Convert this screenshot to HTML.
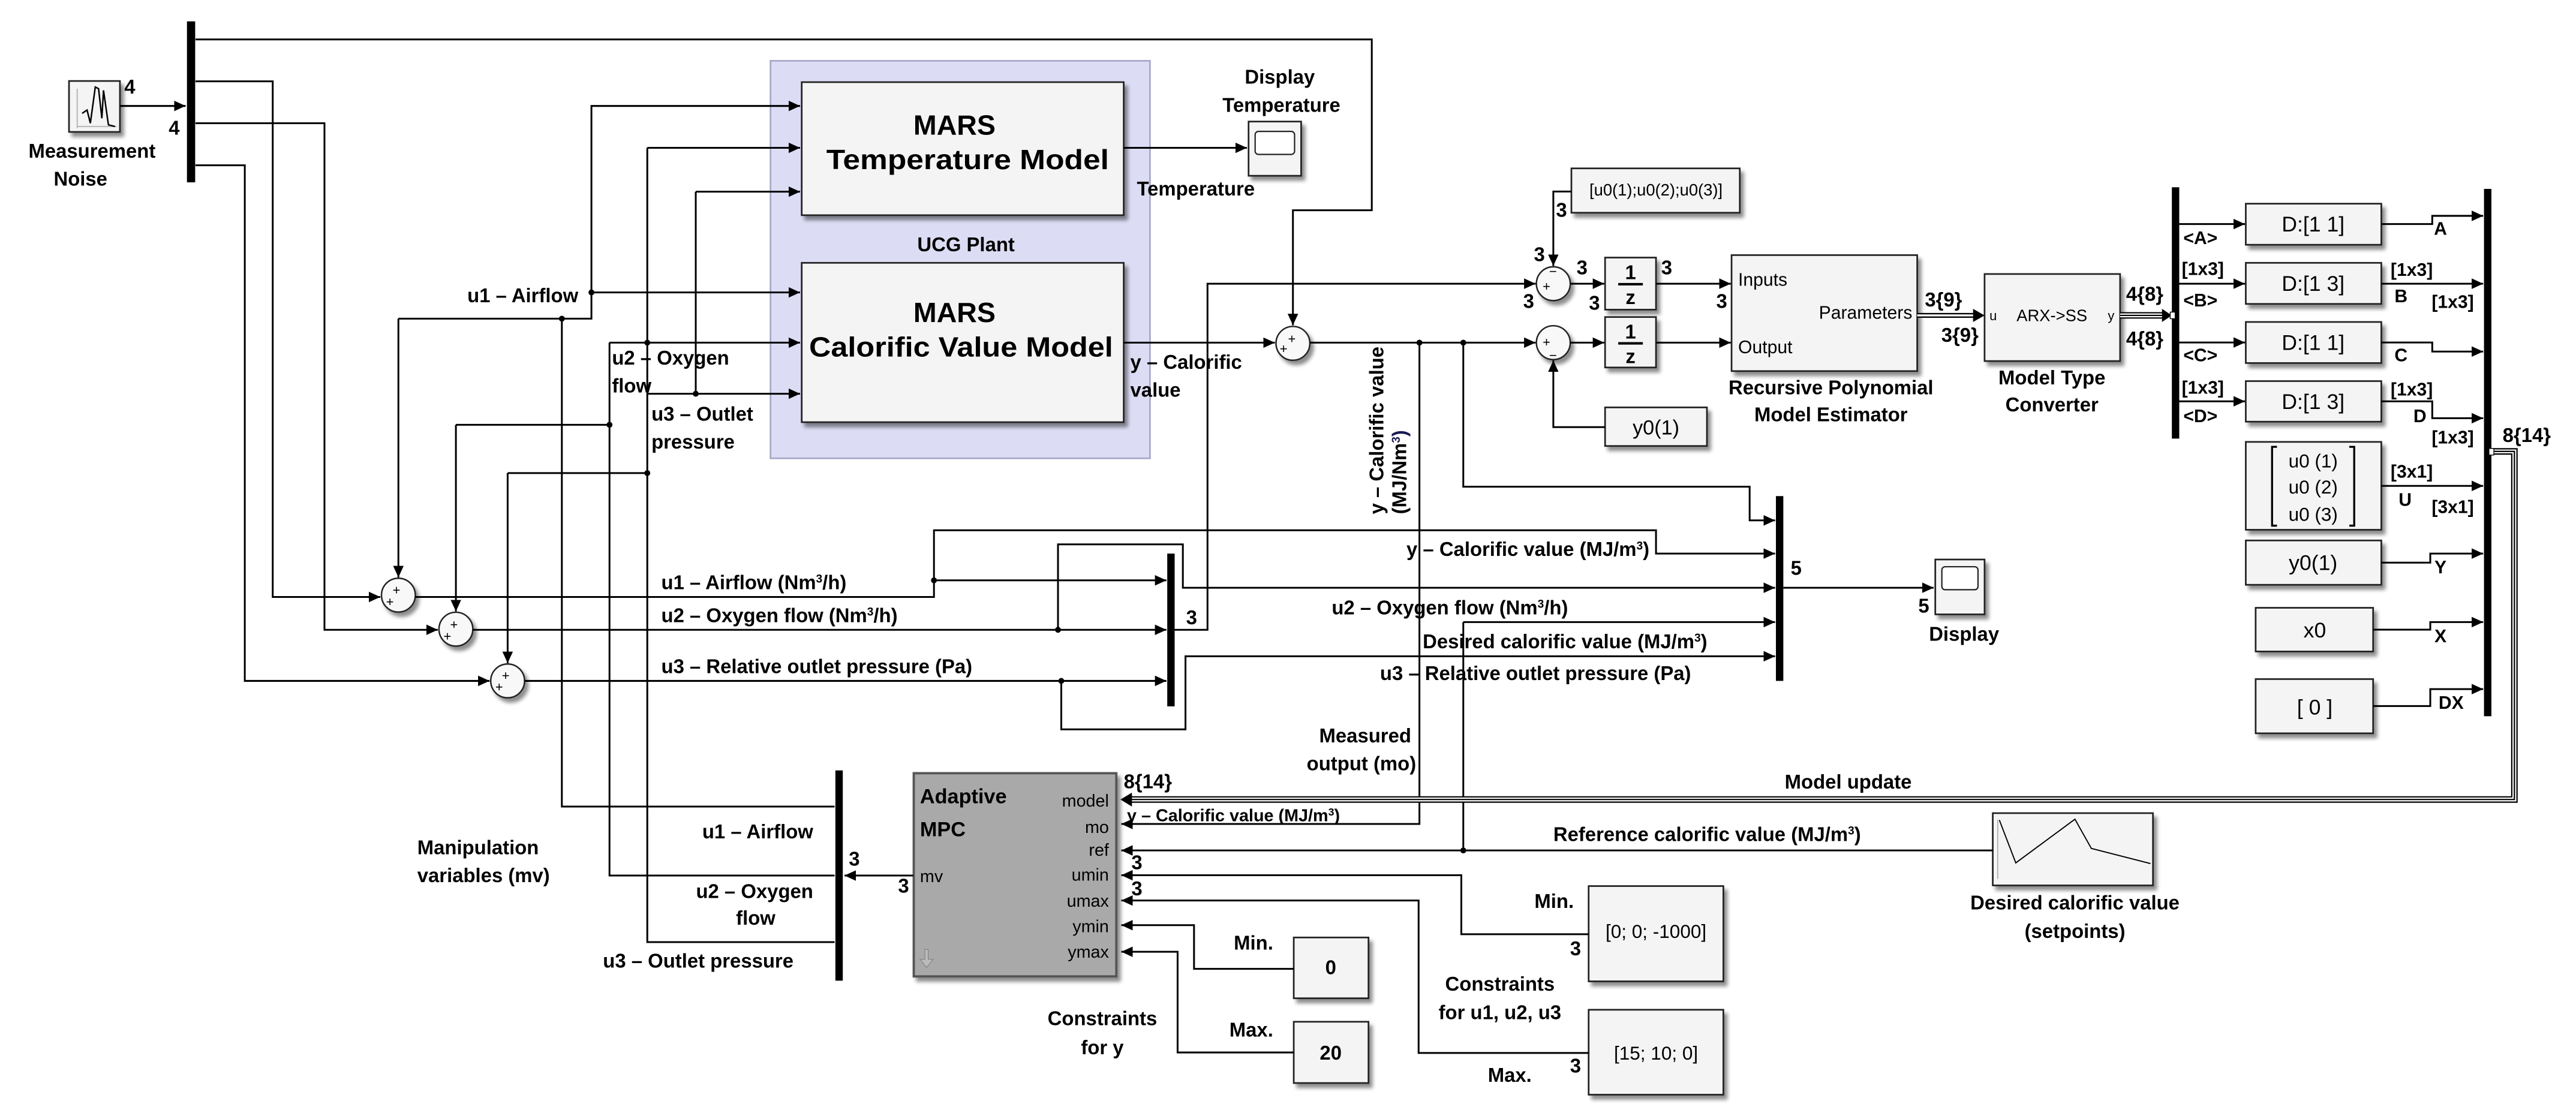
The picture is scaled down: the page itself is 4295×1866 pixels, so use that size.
<!DOCTYPE html>
<html><head><meta charset="utf-8"><style>
html,body{margin:0;padding:0;background:#fff}
svg{display:block}
text{font-family:"Liberation Sans",Arial,sans-serif;font-weight:bold;fill:#000}
.r{font-weight:normal}
</style></head><body>
<svg width="4295" height="1866" viewBox="0 0 1568 681.2" preserveAspectRatio="none" xmlns="http://www.w3.org/2000/svg">
<defs>
<marker id="a" markerUnits="userSpaceOnUse" markerWidth="8" markerHeight="8" refX="7" refY="4" orient="auto"><path d="M0,0.8 L7,4 L0,7.2 Z" fill="#000"/></marker>
<filter id="sh" x="-10%" y="-10%" width="130%" height="130%"><feGaussianBlur in="SourceAlpha" stdDeviation="1.2"/><feOffset dx="2" dy="2.5"/><feComponentTransfer><feFuncA type="linear" slope="0.45"/></feComponentTransfer><feMerge><feMergeNode/><feMergeNode in="SourceGraphic"/></feMerge></filter>
</defs>
<rect width="1568" height="681.2" fill="#fff"/>

<rect x="469" y="37" width="231" height="242" fill="#dcdcf4" stroke="#a8a8c8" stroke-width="1"/>

<g fill="#f4f4f4" stroke="#222" stroke-width="1" filter="url(#sh)">
<rect x="42" y="49.3" width="31" height="31"/>
<rect x="488" y="50" width="196" height="81"/>
<rect x="488" y="160" width="196" height="97"/>
<rect x="760" y="74" width="32" height="33"/>
<rect x="956.5" y="102.5" width="102.5" height="27"/>
<rect x="977" y="156.8" width="31" height="31.7"/>
<rect x="977" y="193" width="31" height="30.7"/>
<rect x="977" y="248" width="62" height="23.5"/>
<rect x="1054" y="155.3" width="113" height="70.6"/>
<rect x="1208" y="166.8" width="82.5" height="53"/>
<rect x="1367" y="124" width="82.5" height="25"/>
<rect x="1367" y="160" width="82.5" height="25"/>
<rect x="1367" y="196" width="82.5" height="25"/>
<rect x="1367" y="232" width="82.5" height="24.7"/>
<rect x="1367" y="269" width="82.5" height="53.5"/>
<rect x="1367" y="329" width="82.5" height="27"/>
<rect x="1373" y="370" width="71.5" height="26.6"/>
<rect x="1373" y="413.4" width="71.5" height="33"/>
<rect x="1178" y="340.6" width="30" height="33.4"/>
<rect x="1213" y="495" width="97.5" height="44"/>
<rect x="967" y="539.4" width="82" height="58"/>
<rect x="967" y="614.7" width="82" height="51.7"/>
<rect x="787.5" y="570.7" width="45.5" height="37"/>
<rect x="787.5" y="622" width="45.5" height="37.3"/>
<rect x="556.2" y="470.7" width="123.3" height="123.7" fill="#a9a9a9" stroke="#555" stroke-width="1.4"/>
</g>
<rect x="764" y="80" width="24" height="14" rx="2" fill="#fff" stroke="#222" stroke-width="0.8"/>
<rect x="1182" y="345" width="22" height="14" rx="2" fill="#fff" stroke="#222" stroke-width="0.8"/>
<path d="M47,77 H71 M47,54 V78" stroke="#bbb" stroke-width="0.8" fill="none"/>
<path d="M50,69 L53,67 L55,75 L58,53 L60,54 L62,72 L63,55 L66,76 L70,77" stroke="#000" stroke-width="0.9" fill="none"/>
<path d="M1217,499.2 L1227,525.3 L1263,498.7 L1273,516.5 L1309,525.7" stroke="#000" stroke-width="0.7" fill="none"/>
<path d="M1216,499 V535" stroke="#aaa" stroke-width="0.6"/>
<path d="M563,578 v6 h-3 l4,5 l4,-5 h-3 v-6 z" fill="#bbb" stroke="#888" stroke-width="0.5"/>

<g fill="#000">
<rect x="113.8" y="13" width="5" height="98"/>
<rect x="508.5" y="469" width="4.5" height="128"/>
<rect x="710.5" y="337" width="4.5" height="93"/>
<rect x="1081" y="302" width="4.5" height="112.5"/>
<rect x="1322" y="114" width="4.5" height="153"/>
<rect x="1512" y="115" width="4.5" height="321"/>
</g>

<g fill="#f8f8f8" stroke="#222" stroke-width="0.9" filter="url(#sh)">
<circle cx="242.5" cy="362.3" r="10.3"/>
<circle cx="277.5" cy="383" r="10.3"/>
<circle cx="309" cy="414.5" r="10.3"/>
<circle cx="787" cy="209" r="10.3"/>
<circle cx="945.5" cy="172.7" r="10.3"/>
<circle cx="945.5" cy="208.6" r="10.3"/>
</g>
<g class="r" font-size="8">
<text x="239" y="362" class="r">+</text><text x="235" y="369" class="r">+</text>
<text x="274" y="383" class="r">+</text><text x="270" y="390" class="r">+</text>
<text x="305.5" y="414" class="r">+</text><text x="301.5" y="421" class="r">+</text>
<text x="784" y="209" class="r">+</text><text x="779" y="215" class="r">+</text>
<text x="939" y="177" class="r">+</text><text x="943" y="168" class="r">−</text>
<text x="939" y="211" class="r">+</text><text x="943" y="219" class="r">−</text>
</g>

<g fill="none" stroke="#000" stroke-width="1.1">
<path d="M73,64.5 H113" marker-end="url(#a)"/>
<path d="M119,24 H835 V128 H787 V198" marker-end="url(#a)"/>
<path d="M119,49.5 H166 V363.4 H231.5" marker-end="url(#a)"/>
<path d="M119,75 H197.5 V383.4 H266.5" marker-end="url(#a)"/>
<path d="M119,100.6 H149 V414.5 H298" marker-end="url(#a)"/>
<path d="M242.5,194 V351.5" marker-end="url(#a)"/>
<path d="M242.5,194 H360 V64.5 H487" marker-end="url(#a)"/>
<path d="M360,178 H487" marker-end="url(#a)"/>
<path d="M342,194 V491 H508"/>
<path d="M277.5,258.6 V372.2" marker-end="url(#a)"/>
<path d="M277.5,258.6 H371"/>
<path d="M371,208.6 V533 H508"/>
<path d="M371,208.6 H487" marker-end="url(#a)"/>
<path d="M309,288 V403.7" marker-end="url(#a)"/>
<path d="M309,288 H394"/>
<path d="M394,90 V573.5 H508"/>
<path d="M394,90 H487" marker-end="url(#a)"/>
<path d="M394,239.7 H487" marker-end="url(#a)"/>
<path d="M423.5,116.7 V239.7"/>
<path d="M423.5,116.7 H487" marker-end="url(#a)"/>
<path d="M684,90 H759" marker-end="url(#a)"/>
<path d="M684,208.6 H776" marker-end="url(#a)"/>
<path d="M797.3,208.6 H934.7" marker-end="url(#a)"/>
<path d="M715,383.4 H735 V172.7 H934.7" marker-end="url(#a)"/>
<path d="M956.5,116.6 H945.5 V161.9" marker-end="url(#a)"/>
<path d="M955.8,172.7 H976.5" marker-end="url(#a)"/>
<path d="M1008,172.7 H1053.5" marker-end="url(#a)"/>
<path d="M955.8,208.6 H976.5" marker-end="url(#a)"/>
<path d="M1008,208.6 H1053.5" marker-end="url(#a)"/>
<path d="M977,260 H945.5 V219.4" marker-end="url(#a)"/>
<path d="M1326.5,136.4 H1366.5" marker-end="url(#a)"/>
<path d="M1326.5,172.7 H1366.5" marker-end="url(#a)"/>
<path d="M1326.5,208.5 H1366.5" marker-end="url(#a)"/>
<path d="M1326.5,244.3 H1366.5" marker-end="url(#a)"/>
<path d="M1449.5,136.4 H1480.5 V131.4 H1511.5" marker-end="url(#a)"/>
<path d="M1449.5,172.7 H1511.5" marker-end="url(#a)"/>
<path d="M1449.5,208.5 H1480.5 V214 H1511.5" marker-end="url(#a)"/>
<path d="M1449.5,244.3 H1480.5 V254.6 H1511.5" marker-end="url(#a)"/>
<path d="M1449.5,295.8 H1511.5" marker-end="url(#a)"/>
<path d="M1449.5,342.5 H1479.3 V337 H1511.5" marker-end="url(#a)"/>
<path d="M1444.5,383.3 H1479.3 V378.7 H1511.5" marker-end="url(#a)"/>
<path d="M1444.5,429.8 H1479.3 V419.5 H1511.5" marker-end="url(#a)"/>
<path d="M864,208.6 V501.6 H682.5" marker-end="url(#a)"/>
<path d="M890.7,208.6 V296.3 H1065 V316.8 H1080.5" marker-end="url(#a)"/>
<path d="M252.8,363.4 H568.5 V322.8 H1008 V337 H1080.5" marker-end="url(#a)"/>
<path d="M568.5,353.3 H710" marker-end="url(#a)"/>
<path d="M287.8,383.4 H710" marker-end="url(#a)"/>
<path d="M644,383.4 V331.4 H720 V357.8 H1080.5" marker-end="url(#a)"/>
<path d="M319.3,414.5 H710" marker-end="url(#a)"/>
<path d="M646,414.5 V444 H721.6 V399.5 H1080.5" marker-end="url(#a)"/>
<path d="M890.7,378.7 H1080.5" marker-end="url(#a)"/>
<path d="M890.7,378.7 V517.7"/>
<path d="M1213,517.7 H682.5" marker-end="url(#a)"/>
<path d="M1085.5,357.8 H1177" marker-end="url(#a)"/>
<path d="M967,568.7 H889.5 V532.8 H682.5" marker-end="url(#a)"/>
<path d="M967,641 H863.5 V548.2 H682.5" marker-end="url(#a)"/>
<path d="M787.5,589.8 H726.8 V563.2 H682.5" marker-end="url(#a)"/>
<path d="M787.5,640.7 H716.8 V579.4 H682.5" marker-end="url(#a)"/>
<path d="M556,533 H514" marker-end="url(#a)"/>
</g>
<g fill="none" stroke-linejoin="miter">
<path d="M1167,192 H1203" stroke="#000" stroke-width="3"/>
<path d="M1167,192 H1203" stroke="#fff" stroke-width="1.2"/>
<path d="M1290.5,192 H1319" stroke="#000" stroke-width="4"/>
<path d="M1290.5,192 H1319" stroke="#fff" stroke-width="2.4"/>
<path d="M1290.5,192 H1319" stroke="#000" stroke-width="0.8"/>
<path d="M1516.5,274.8 H1530.5 V486.7 H688" stroke="#000" stroke-width="4"/>
<path d="M1516.5,274.8 H1530.5 V486.7 H688" stroke="#fff" stroke-width="2.4"/>
<path d="M1516.5,274.8 H1530.5 V486.7 H688" stroke="#000" stroke-width="0.8"/>
</g>
<path d="M1201,188 L1208,192 L1201,196 Z"/>
<path d="M1316,188 L1322,192 L1316,196 Z"/>
<path d="M689,482.5 L682,486.7 L689,491 Z"/>
<rect x="1321" y="190" width="3" height="4" fill="#fff" stroke="#000" stroke-width="0.5"/>
<rect x="1515" y="273" width="3" height="4" fill="#fff" stroke="#000" stroke-width="0.5"/>

<g fill="#000">
<circle cx="360" cy="178" r="1.8"/><circle cx="342" cy="194" r="1.8"/>
<circle cx="394" cy="208.6" r="1.8"/><circle cx="423.5" cy="239.7" r="1.8"/>
<circle cx="371" cy="258.6" r="1.8"/><circle cx="394" cy="288" r="1.8"/>
<circle cx="864" cy="208.6" r="1.8"/><circle cx="890.7" cy="208.6" r="1.8"/>
<circle cx="568.5" cy="353.3" r="1.8"/><circle cx="644" cy="383.4" r="1.8"/>
<circle cx="646" cy="414.5" r="1.8"/><circle cx="890.7" cy="517.7" r="1.8"/>
</g>

<text x="581" y="82" font-size="17" text-anchor="middle">MARS</text>
<text x="589" y="103" font-size="17" text-anchor="middle" textLength="172" lengthAdjust="spacingAndGlyphs">Temperature Model</text>
<text x="581" y="196" font-size="17" text-anchor="middle">MARS</text>
<text x="585" y="217" font-size="17" text-anchor="middle" textLength="185" lengthAdjust="spacingAndGlyphs">Calorific Value Model</text>
<text x="588" y="153" font-size="12" text-anchor="middle">UCG Plant</text>
<text x="1008" y="119" font-size="10" text-anchor="middle" class="r">[u0(1);u0(2);u0(3)]</text>
<text x="992.5" y="170" font-size="12" text-anchor="middle">1</text>
<path d="M985,173 H1000" stroke="#000" stroke-width="1.5"/>
<text x="992.5" y="185" font-size="12" text-anchor="middle">z</text>
<text x="992.5" y="206" font-size="12" text-anchor="middle">1</text>
<path d="M985,209 H1000" stroke="#000" stroke-width="1.5"/>
<text x="992.5" y="221" font-size="12" text-anchor="middle">z</text>
<text x="1008" y="264.5" font-size="12.5" text-anchor="middle" class="r">y0(1)</text>
<text x="1058" y="174" font-size="11" class="r">Inputs</text>
<text x="1164" y="194" font-size="11" text-anchor="end" class="r">Parameters</text>
<text x="1058" y="215" font-size="11" class="r">Output</text>
<text x="1211" y="195" font-size="8" class="r">u</text>
<text x="1249" y="195.5" font-size="10" text-anchor="middle" class="r">ARX-&gt;SS</text>
<text x="1287" y="195" font-size="8" text-anchor="end" class="r">y</text>
<text x="1408" y="141" font-size="13" text-anchor="middle" class="r">D:[1 1]</text>
<text x="1408" y="177" font-size="13" text-anchor="middle" class="r">D:[1 3]</text>
<text x="1408" y="213" font-size="13" text-anchor="middle" class="r">D:[1 1]</text>
<text x="1408" y="249" font-size="13" text-anchor="middle" class="r">D:[1 3]</text>
<text x="1408" y="284.5" font-size="11.5" text-anchor="middle" class="r">u0 (1)</text>
<text x="1408" y="300.5" font-size="11.5" text-anchor="middle" class="r">u0 (2)</text>
<text x="1408" y="317" font-size="11.5" text-anchor="middle" class="r">u0 (3)</text>
<path d="M1386,272 h-3 v48 h3 M1430,272 h3 v48 h-3" stroke="#000" stroke-width="1.2" fill="none"/>
<text x="1408" y="347" font-size="13" text-anchor="middle" class="r">y0(1)</text>
<text x="1409" y="388" font-size="13" text-anchor="middle" class="r">x0</text>
<text x="1409" y="435" font-size="13" text-anchor="middle" class="r">[ 0 ]</text>
<text x="1008" y="571" font-size="11.5" text-anchor="middle" class="r">[0; 0; -1000]</text>
<text x="1008" y="645" font-size="11.5" text-anchor="middle" class="r">[15; 10; 0]</text>
<text x="810" y="593" font-size="12" text-anchor="middle">0</text>
<text x="810" y="645" font-size="12" text-anchor="middle">20</text>
<text x="560" y="489" font-size="12.5">Adaptive</text>
<text x="560" y="509" font-size="12.5">MPC</text>
<g font-size="10.5" text-anchor="end" class="r">
<text x="675" y="491" class="r">model</text>
<text x="675" y="507" class="r">mo</text>
<text x="675" y="521" class="r">ref</text>
<text x="675" y="536" class="r">umin</text>
<text x="675" y="552" class="r">umax</text>
<text x="675" y="567.5" class="r">ymin</text>
<text x="675" y="583" class="r">ymax</text>
</g>
<text x="560" y="537" font-size="10.5" class="r">mv</text>

<g font-size="12">
<text x="56" y="96" text-anchor="middle">Measurement</text>
<text x="49" y="113" text-anchor="middle">Noise</text>
<text x="79" y="57" text-anchor="middle">4</text>
<text x="106" y="82" text-anchor="middle">4</text>
<text x="352" y="184" text-anchor="end">u1 – Airflow</text>
<text x="372.5" y="222">u2 – Oxygen</text>
<text x="372.5" y="239">flow</text>
<text x="396.5" y="256">u3 – Outlet</text>
<text x="396.5" y="273">pressure</text>
<text x="779" y="51" text-anchor="middle">Display</text>
<text x="780" y="68" text-anchor="middle">Temperature</text>
<text x="692" y="119">Temperature</text>
<text x="688" y="224.5">y – Calorific</text>
<text x="688" y="241.5">value</text>
<text x="1114.5" y="240" text-anchor="middle">Recursive Polynomial</text>
<text x="1114.5" y="256.5" text-anchor="middle">Model Estimator</text>
<text x="1249" y="234" text-anchor="middle">Model Type</text>
<text x="1249" y="250.5" text-anchor="middle">Converter</text>
<text x="402.5" y="358.7">u1 – Airflow  (Nm<tspan font-size="7" dy="-4">3</tspan><tspan dy="4">/h)</tspan></text>
<text x="402.5" y="378.7">u2 – Oxygen flow (Nm<tspan font-size="7" dy="-4">3</tspan><tspan dy="4">/h)</tspan></text>
<text x="402.5" y="409.8">u3 – Relative outlet pressure (Pa)</text>
<text x="1004" y="338.5" text-anchor="end">y – Calorific value (MJ/m<tspan font-size="7" dy="-4">3</tspan><tspan dy="4">)</tspan></text>
<text x="810.6" y="374">u2 – Oxygen flow (Nm<tspan font-size="7" dy="-4">3</tspan><tspan dy="4">/h)</tspan></text>
<text x="866" y="394.6">Desired calorific value (MJ/m<tspan font-size="7" dy="-4">3</tspan><tspan dy="4">)</tspan></text>
<text x="840" y="414">u3 – Relative outlet pressure (Pa)</text>
<text x="722" y="380">3</text>
<text x="1090" y="350">5</text>
<text x="1171" y="373" text-anchor="middle">5</text>
<text x="1195.5" y="390" text-anchor="middle">Display</text>
<text x="859" y="452" text-anchor="end">Measured</text>
<text x="862" y="469" text-anchor="end">output (mo)</text>
<text x="1125" y="480" text-anchor="middle">Model update</text>
<text x="945.5" y="512">Reference calorific value (MJ/m<tspan font-size="7" dy="-4">3</tspan><tspan dy="4">)</tspan></text>
<text x="1263" y="553.6" text-anchor="middle">Desired calorific value</text>
<text x="1263" y="571" text-anchor="middle">(setpoints)</text>
<text x="958" y="552.7" text-anchor="end">Min.</text>
<text x="959" y="581.5" text-anchor="middle">3</text>
<text x="913" y="603" text-anchor="middle">Constraints</text>
<text x="913" y="620.5" text-anchor="middle">for u1, u2, u3</text>
<text x="919" y="658.5" text-anchor="middle">Max.</text>
<text x="959" y="653" text-anchor="middle">3</text>
<text x="775" y="578" text-anchor="end">Min.</text>
<text x="775" y="631" text-anchor="end">Max.</text>
<text x="671" y="624" text-anchor="middle">Constraints</text>
<text x="671" y="641.8" text-anchor="middle">for y</text>
<text x="684" y="479.8">8{14}</text>
<text x="692" y="529.2" text-anchor="middle">3</text>
<text x="692" y="545" text-anchor="middle">3</text>
<text x="495" y="510.4" text-anchor="end">u1 – Airflow</text>
<text x="495" y="546.6" text-anchor="end">u2 – Oxygen</text>
<text x="460" y="563" text-anchor="middle">flow</text>
<text x="367" y="589">u3 – Outlet pressure</text>
<text x="520" y="527" text-anchor="middle">3</text>
<text x="550" y="543.4" text-anchor="middle">3</text>
<text x="254" y="520">Manipulation</text>
<text x="254" y="537">variables (mv)</text>
<text x="950.5" y="132" text-anchor="middle">3</text>
<text x="937" y="159" text-anchor="middle">3</text>
<text x="963" y="167" text-anchor="middle">3</text>
<text x="930.5" y="187.5" text-anchor="middle">3</text>
<text x="970.5" y="188.6" text-anchor="middle">3</text>
<text x="1014.5" y="167" text-anchor="middle">3</text>
<text x="1048" y="187.5" text-anchor="middle">3</text>
<text x="1183" y="186.5" text-anchor="middle">3{9}</text>
<text x="1193" y="208" text-anchor="middle">3{9}</text>
<text x="1305.5" y="183" text-anchor="middle">4{8}</text>
<text x="1305.5" y="210.3" text-anchor="middle">4{8}</text>
<text x="1538" y="269" text-anchor="middle">8{14}</text>
</g>
<g font-size="11">
<text x="1329" y="148.5">&lt;A&gt;</text>
<text x="1328" y="167.3">[1x3]</text>
<text x="1329" y="186.5">&lt;B&gt;</text>
<text x="1329" y="220">&lt;C&gt;</text>
<text x="1328" y="239.7">[1x3]</text>
<text x="1329" y="257">&lt;D&gt;</text>
<text x="1485.5" y="143" text-anchor="middle">A</text>
<text x="1468" y="168" text-anchor="middle">[1x3]</text>
<text x="1461.5" y="184" text-anchor="middle">B</text>
<text x="1493" y="187.5" text-anchor="middle">[1x3]</text>
<text x="1461.5" y="220" text-anchor="middle">C</text>
<text x="1468" y="240.7" text-anchor="middle">[1x3]</text>
<text x="1473" y="257" text-anchor="middle">D</text>
<text x="1493" y="270" text-anchor="middle">[1x3]</text>
<text x="1468" y="290.7" text-anchor="middle">[3x1]</text>
<text x="1464" y="308" text-anchor="middle">U</text>
<text x="1493" y="312.4" text-anchor="middle">[3x1]</text>
<text x="1485.5" y="349" text-anchor="middle">Y</text>
<text x="1485.5" y="391" text-anchor="middle">X</text>
<text x="1492" y="431.5" text-anchor="middle">DX</text>
</g>
<text x="686" y="500" font-size="10.5">y – Calorific value (MJ/m<tspan font-size="6.5" dy="-3.5">3</tspan><tspan dy="3.5">)</tspan></text>
<text transform="translate(842,313) rotate(-90)" font-size="12" fill="#1a1a55">y – Calorific value</text>
<text transform="translate(856,313) rotate(-90)" font-size="12" fill="#1a1a55">(MJ/Nm<tspan font-size="7" dy="-4" fill="#1a1a55">3</tspan><tspan dy="4" fill="#1a1a55">)</tspan></text>
</svg>
</body></html>
